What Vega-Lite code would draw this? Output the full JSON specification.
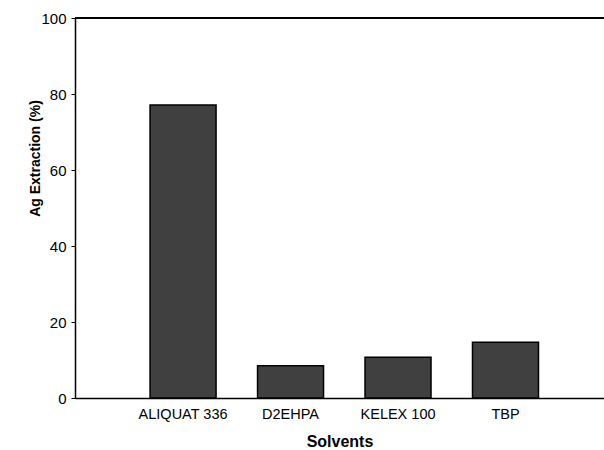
{
  "$schema": "https://vega.github.io/schema/vega-lite/v6.json",
  "width": 529,
  "height": 380,
  "autosize": "none",
  "padding": {"left": 75, "top": 18, "right": 0, "bottom": 52},
  "background": "white",
  "config": {
    "view": {"stroke": null},
    "font": "Liberation Sans"
  },
  "data": {
    "values": [
      {"solvent": "ALIQUAT 336", "extraction": 77.1},
      {"solvent": "D2EHPA", "extraction": 8.5},
      {"solvent": "KELEX 100", "extraction": 10.7},
      {"solvent": "TBP", "extraction": 14.7}
    ]
  },
  "layer": [
    {
      "mark": {"type": "bar", "color": "#404040", "stroke": "#000000", "strokeWidth": 1.5},
      "encoding": {
        "x": {
          "field": "solvent",
          "type": "nominal",
          "sort": null,
          "scale": {"paddingInner": 0.386, "paddingOuter": 0.654, "align": 0.534},
          "axis": {
            "title": "Solvents",
            "titleFont": "Liberation Sans",
            "titleFontSize": 16,
            "titleFontWeight": "bold",
            "titleColor": "#000000",
            "titlePadding": 13,
            "labelAngle": 0,
            "labelFont": "Liberation Sans",
            "labelFontSize": 14.5,
            "labelColor": "#000000",
            "labelPadding": 9,
            "ticks": false,
            "domainColor": "#000000",
            "domainWidth": 1.5,
            "grid": false
          }
        },
        "y": {
          "field": "extraction",
          "type": "quantitative",
          "scale": {"domain": [0, 100], "nice": false},
          "axis": {
            "title": "Ag Extraction (%)",
            "titleFont": "Liberation Sans",
            "titleFontSize": 14,
            "titleFontWeight": "bold",
            "titleColor": "#000000",
            "titleAngle": -90,
            "titleX": -36,
            "titleY": 140,
            "titleAlign": "center",
            "titleBaseline": "alphabetic",
            "values": [0, 20, 40, 60, 80, 100],
            "labelFont": "Liberation Sans",
            "labelFontSize": 15,
            "labelColor": "#000000",
            "labelPadding": 5,
            "tickSize": 4,
            "tickColor": "#000000",
            "tickWidth": 1,
            "domainColor": "#000000",
            "domainWidth": 1.5,
            "grid": false
          }
        }
      }
    },
    {
      "mark": {"type": "rule", "color": "#000000", "strokeWidth": 1.5},
      "encoding": {"y": {"datum": 100}}
    }
  ]
}
